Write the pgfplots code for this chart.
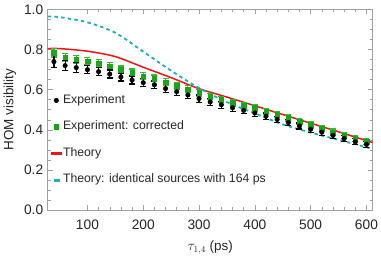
\documentclass[border=0pt]{standalone}
\usepackage{pgfplots}
\pgfplotsset{compat=1.18}
\usepackage{fontspec}
\setmainfont{Liberation Sans}
\definecolor{expgreen}{RGB}{25,165,25}
\definecolor{errgreen}{RGB}{60,185,40}
\definecolor{thcyan}{RGB}{30,175,190}
\definecolor{thred}{RGB}{240,20,20}
\definecolor{framegray}{RGB}{160,160,160}
\pgfplotsset{
  markleg/.style={legend image code/.code={\draw[mark repeat=2,mark phase=2,##1] plot coordinates {(-5bp,0bp)(0bp,0bp)(5bp,0bp)};}},
  redleg/.style={legend image code/.code={\fill[fill=thred] (-5bp,-0.75bp) rectangle (5bp,0.75bp);}},
  cyanleg/.style={legend image code/.code={\fill[fill=thcyan] (-2.5bp,-0.9bp) rectangle (2.5bp,0.9bp);}},
}
\pgfplotstableread{
x y e
40 0.740 0.030
60 0.720 0.025
80 0.710 0.025
100 0.700 0.020
120 0.690 0.020
140 0.678 0.020
160 0.663 0.020
180 0.648 0.020
200 0.635 0.020
220 0.625 0.018
240 0.606 0.018
260 0.590 0.018
280 0.574 0.018
300 0.556 0.018
320 0.539 0.017
340 0.525 0.017
360 0.510 0.017
380 0.497 0.016
400 0.484 0.016
420 0.468 0.016
440 0.452 0.016
460 0.436 0.015
480 0.419 0.015
500 0.403 0.015
520 0.388 0.015
540 0.372 0.015
560 0.356 0.015
580 0.340 0.015
600 0.327 0.015
}\exptable
\pgfplotstableread{
x y e
40 0.785 0.022
60 0.762 0.020
80 0.752 0.020
100 0.742 0.018
120 0.732 0.018
140 0.717 0.018
160 0.700 0.018
180 0.685 0.018
200 0.668 0.017
220 0.656 0.017
240 0.637 0.017
260 0.620 0.017
280 0.602 0.017
300 0.585 0.016
320 0.566 0.016
340 0.551 0.016
360 0.535 0.016
380 0.522 0.016
400 0.510 0.016
420 0.493 0.015
440 0.476 0.015
460 0.459 0.015
480 0.441 0.015
500 0.424 0.015
520 0.405 0.015
540 0.389 0.015
560 0.372 0.015
580 0.356 0.015
600 0.342 0.015
}\corrtable
\pgfplotstableread{
x y
28.8 0.805
50 0.805
100 0.792
150 0.765
200 0.712
250 0.660
300 0.605
350 0.563
400 0.520
450 0.476
500 0.433
550 0.390
600 0.346
611.2 0.337
}\redtable
\pgfplotstableread{
x y
28.8 0.965
50 0.962
100 0.936
150 0.884
200 0.790
250 0.695
300 0.608
350 0.538
400 0.482
450 0.427
500 0.386
550 0.350
600 0.313
611.2 0.305
}\cyantable
\begin{document}
\begin{tikzpicture}
\useasboundingbox (-47.7bp,-46bp) rectangle (333.3bp,210bp);
\begin{axis}[
  scale only axis,
  width=325bp, height=200.5bp,
  xmin=28.8, xmax=611.2, ymin=0, ymax=1,
  xtick={100,200,...,600},
  ytick={0,0.2,...,1.0},
  minor x tick num=4,
  minor y tick num=3,
  tick align=inside,
  major tick length=5bp,
  minor tick length=3bp,
  axis line style={framegray},
  tick style={framegray, line width=0.5bp},
  yticklabel style={xshift=-1bp, /pgf/number format/.cd, fixed, fixed zerofill, precision=1},
  /pgf/number format/assume math mode=true,
  ticklabel style={font=\fontsize{13.8}{16}\selectfont, text=black!85},
  xticklabel style={yshift=-6bp},
  xlabel={$\tau_{1,4}$ (ps)},
  ylabel={HOM visibility},
  label style={font=\fontsize{13.5}{16}\selectfont, text=black!85},
  xlabel style={yshift=-5bp},
  ylabel style={yshift=1bp},
  legend cell align=left,
  legend style={draw=none, fill=none, at={(0.01,0.585)}, anchor=north west,
    font=\fontsize{12.3}{14}\selectfont, text=black!85, row sep=11.5bp, inner sep=0pt,
    nodes={inner sep=1.5bp, text height=9bp, text depth=3bp}},
]
\addplot[thred, line width=1.5bp, smooth, forget plot] table[x=x,y=y] {\redtable};
\addplot[thcyan, line width=1.8bp, dash pattern=on 3.5bp off 3.2bp, smooth, forget plot] table[x=x,y=y] {\cyantable};
\addplot[only marks, mark=square*, mark size=2.3bp, color=expgreen, forget plot,
  error bars/.cd, y dir=both, y explicit, error mark options={errgreen, line width=1.2bp, mark size=3bp, rotate=90}, error bar style={errgreen, line width=1.2bp}]
  table[x=x,y=y,y error=e] {\corrtable};
\addplot[only marks, mark=*, mark size=2.3bp, color=black, forget plot,
  error bars/.cd, y dir=both, y explicit, error mark options={black, line width=1.2bp, mark size=3bp, rotate=90}, error bar style={black, line width=1.2bp}]
  table[x=x,y=y,y error=e] {\exptable};
\addlegendimage{only marks, mark=*, mark size=2.3bp, black, markleg}
\addlegendentry{Experiment}
\addlegendimage{only marks, mark=square*, mark size=2.3bp, expgreen, markleg}
\addlegendentry{Experiment: corrected}
\addlegendimage{thred, redleg}
\addlegendentry{Theory}
\addlegendimage{thcyan, cyanleg}
\addlegendentry{Theory: identical sources with 164 ps}
\end{axis}
\end{tikzpicture}
\end{document}
